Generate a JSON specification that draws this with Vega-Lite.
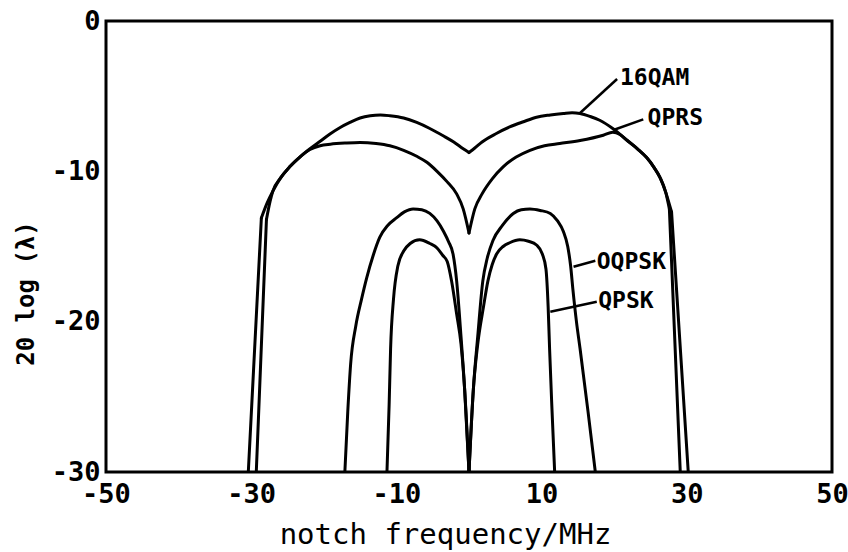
{
  "$schema": "https://vega.github.io/schema/vega-lite/v6.json",
  "autosize": {"type": "none"},
  "padding": {"left": 106, "top": 21, "right": 16, "bottom": 80},
  "width": 726,
  "height": 451,
  "background": "white",
  "config": {
    "view": {"stroke": "black", "strokeWidth": 3},
    "axis": {
      "domain": false,
      "grid": false,
      "ticks": false,
      "labelFont": "DejaVu Sans Mono",
      "labelFontWeight": "bold",
      "labelFontSize": 27,
      "labelColor": "black",
      "titleFont": "DejaVu Sans Mono",
      "titleColor": "black",
      "labelFlush": false,
      "labelOverlap": false
    }
  },
  "datasets": {
    "curves": [
      {"seg": "16QAM-L0", "k": "lin", "i": 0, "f": -30.4, "db": -30},
      {"seg": "16QAM-L0", "k": "lin", "i": 1, "f": -28.6, "db": -13.1},

      {"seg": "16QAM-L", "k": "mono", "i": 0, "f": -28.6, "db": -13.1},
      {"seg": "16QAM-L", "k": "mono", "i": 1, "f": -27.8, "db": -12.1},
      {"seg": "16QAM-L", "k": "mono", "i": 2, "f": -27.0, "db": -11.3},
      {"seg": "16QAM-L", "k": "mono", "i": 3, "f": -25.9, "db": -10.4},
      {"seg": "16QAM-L", "k": "mono", "i": 4, "f": -24.7, "db": -9.7},
      {"seg": "16QAM-L", "k": "mono", "i": 5, "f": -23.3, "db": -9.05},
      {"seg": "16QAM-L", "k": "mono", "i": 6, "f": -21.9, "db": -8.5},
      {"seg": "16QAM-L", "k": "mono", "i": 7, "f": -20.5, "db": -8.0},
      {"seg": "16QAM-L", "k": "mono", "i": 8, "f": -19.1, "db": -7.5},
      {"seg": "16QAM-L", "k": "mono", "i": 9, "f": -17.8, "db": -7.1},
      {"seg": "16QAM-L", "k": "mono", "i": 10, "f": -16.4, "db": -6.75},
      {"seg": "16QAM-L", "k": "mono", "i": 11, "f": -15.0, "db": -6.45},
      {"seg": "16QAM-L", "k": "mono", "i": 12, "f": -13.6, "db": -6.3},
      {"seg": "16QAM-L", "k": "mono", "i": 13, "f": -12.2, "db": -6.25},
      {"seg": "16QAM-L", "k": "mono", "i": 14, "f": -10.9, "db": -6.3},
      {"seg": "16QAM-L", "k": "mono", "i": 15, "f": -9.0, "db": -6.45},
      {"seg": "16QAM-L", "k": "mono", "i": 16, "f": -7.2, "db": -6.75},
      {"seg": "16QAM-L", "k": "mono", "i": 17, "f": -5.4, "db": -7.15},
      {"seg": "16QAM-L", "k": "mono", "i": 18, "f": -3.5, "db": -7.65},
      {"seg": "16QAM-L", "k": "mono", "i": 19, "f": -2.1, "db": -8.05},
      {"seg": "16QAM-L", "k": "mono", "i": 20, "f": -0.8, "db": -8.5},
      {"seg": "16QAM-L", "k": "mono", "i": 21, "f": 0.0, "db": -8.75},

      {"seg": "16QAM-R", "k": "mono", "i": 0, "f": 0.0, "db": -8.75},
      {"seg": "16QAM-R", "k": "mono", "i": 1, "f": 0.8, "db": -8.45},
      {"seg": "16QAM-R", "k": "mono", "i": 2, "f": 1.8, "db": -8.05},
      {"seg": "16QAM-R", "k": "mono", "i": 3, "f": 3.7, "db": -7.5},
      {"seg": "16QAM-R", "k": "mono", "i": 4, "f": 5.6, "db": -7.05},
      {"seg": "16QAM-R", "k": "mono", "i": 5, "f": 7.5, "db": -6.7},
      {"seg": "16QAM-R", "k": "mono", "i": 6, "f": 9.3, "db": -6.4},
      {"seg": "16QAM-R", "k": "mono", "i": 7, "f": 11.2, "db": -6.25},
      {"seg": "16QAM-R", "k": "mono", "i": 8, "f": 13.0, "db": -6.15},
      {"seg": "16QAM-R", "k": "mono", "i": 9, "f": 14.2, "db": -6.1},
      {"seg": "16QAM-R", "k": "mono", "i": 10, "f": 15.3, "db": -6.15},
      {"seg": "16QAM-R", "k": "mono", "i": 11, "f": 16.7, "db": -6.35},
      {"seg": "16QAM-R", "k": "mono", "i": 12, "f": 18.0, "db": -6.6},
      {"seg": "16QAM-R", "k": "mono", "i": 13, "f": 19.8, "db": -7.15},
      {"seg": "16QAM-R", "k": "mono", "i": 14, "f": 21.8, "db": -7.95},
      {"seg": "16QAM-R", "k": "mono", "i": 15, "f": 23.2, "db": -8.5},
      {"seg": "16QAM-R", "k": "mono", "i": 16, "f": 24.5, "db": -9.1},
      {"seg": "16QAM-R", "k": "mono", "i": 17, "f": 25.5, "db": -9.75},
      {"seg": "16QAM-R", "k": "mono", "i": 18, "f": 26.3, "db": -10.4},
      {"seg": "16QAM-R", "k": "mono", "i": 19, "f": 27.1, "db": -11.4},
      {"seg": "16QAM-R", "k": "mono", "i": 20, "f": 27.9, "db": -12.7},

      {"seg": "16QAM-R0", "k": "lin", "i": 0, "f": 27.9, "db": -12.7},
      {"seg": "16QAM-R0", "k": "lin", "i": 1, "f": 30.2, "db": -30},

      {"seg": "QPRS-L0", "k": "lin", "i": 0, "f": -29.3, "db": -30},
      {"seg": "QPRS-L0", "k": "lin", "i": 1, "f": -27.9, "db": -13.2},

      {"seg": "QPRS-L", "k": "mono", "i": 0, "f": -27.9, "db": -13.2},
      {"seg": "QPRS-L", "k": "mono", "i": 1, "f": -27.4, "db": -12.0},
      {"seg": "QPRS-L", "k": "mono", "i": 2, "f": -27.0, "db": -11.3},
      {"seg": "QPRS-L", "k": "mono", "i": 3, "f": -25.9, "db": -10.4},
      {"seg": "QPRS-L", "k": "mono", "i": 4, "f": -24.7, "db": -9.7},
      {"seg": "QPRS-L", "k": "mono", "i": 5, "f": -23.3, "db": -9.05},
      {"seg": "QPRS-L", "k": "mono", "i": 6, "f": -21.9, "db": -8.55},
      {"seg": "QPRS-L", "k": "mono", "i": 7, "f": -20.5, "db": -8.3},
      {"seg": "QPRS-L", "k": "mono", "i": 8, "f": -19.1, "db": -8.2},
      {"seg": "QPRS-L", "k": "mono", "i": 9, "f": -17.0, "db": -8.12},
      {"seg": "QPRS-L", "k": "mono", "i": 10, "f": -15.0, "db": -8.08},
      {"seg": "QPRS-L", "k": "mono", "i": 11, "f": -12.8, "db": -8.15},
      {"seg": "QPRS-L", "k": "mono", "i": 12, "f": -10.9, "db": -8.3},
      {"seg": "QPRS-L", "k": "mono", "i": 13, "f": -9.0, "db": -8.6},
      {"seg": "QPRS-L", "k": "mono", "i": 14, "f": -7.2, "db": -9.0},
      {"seg": "QPRS-L", "k": "mono", "i": 15, "f": -5.8, "db": -9.4},
      {"seg": "QPRS-L", "k": "mono", "i": 16, "f": -4.4, "db": -10.0},
      {"seg": "QPRS-L", "k": "mono", "i": 17, "f": -3.0, "db": -10.7},
      {"seg": "QPRS-L", "k": "mono", "i": 18, "f": -1.7, "db": -11.5},
      {"seg": "QPRS-L", "k": "mono", "i": 19, "f": -0.8, "db": -12.5},
      {"seg": "QPRS-L", "k": "mono", "i": 20, "f": 0.0, "db": -14.1},

      {"seg": "QPRS-R", "k": "mono", "i": 0, "f": 0.0, "db": -14.1},
      {"seg": "QPRS-R", "k": "mono", "i": 1, "f": 0.8, "db": -12.5},
      {"seg": "QPRS-R", "k": "mono", "i": 2, "f": 1.8, "db": -11.5},
      {"seg": "QPRS-R", "k": "mono", "i": 3, "f": 3.2, "db": -10.5},
      {"seg": "QPRS-R", "k": "mono", "i": 4, "f": 4.7, "db": -9.7},
      {"seg": "QPRS-R", "k": "mono", "i": 5, "f": 6.5, "db": -9.05},
      {"seg": "QPRS-R", "k": "mono", "i": 6, "f": 8.4, "db": -8.6},
      {"seg": "QPRS-R", "k": "mono", "i": 7, "f": 10.4, "db": -8.3},
      {"seg": "QPRS-R", "k": "mono", "i": 8, "f": 12.5, "db": -8.15},
      {"seg": "QPRS-R", "k": "mono", "i": 9, "f": 15.3, "db": -7.95},
      {"seg": "QPRS-R", "k": "mono", "i": 10, "f": 18.5, "db": -7.6},
      {"seg": "QPRS-R", "k": "mono", "i": 11, "f": 19.8, "db": -7.4},
      {"seg": "QPRS-R", "k": "mono", "i": 12, "f": 20.8, "db": -7.55},
      {"seg": "QPRS-R", "k": "mono", "i": 13, "f": 21.8, "db": -7.95},
      {"seg": "QPRS-R", "k": "mono", "i": 14, "f": 23.2, "db": -8.5},
      {"seg": "QPRS-R", "k": "mono", "i": 15, "f": 24.5, "db": -9.1},
      {"seg": "QPRS-R", "k": "mono", "i": 16, "f": 25.5, "db": -9.75},
      {"seg": "QPRS-R", "k": "mono", "i": 17, "f": 26.3, "db": -10.4},
      {"seg": "QPRS-R", "k": "mono", "i": 18, "f": 27.1, "db": -11.4},
      {"seg": "QPRS-R", "k": "mono", "i": 19, "f": 27.6, "db": -12.5},

      {"seg": "QPRS-R0", "k": "lin", "i": 0, "f": 27.6, "db": -12.5},
      {"seg": "QPRS-R0", "k": "lin", "i": 1, "f": 29.1, "db": -30},

      {"seg": "OQPSK-L", "k": "mono", "i": 0, "f": -17.1, "db": -30},
      {"seg": "OQPSK-L", "k": "mono", "i": 1, "f": -16.7, "db": -26},
      {"seg": "OQPSK-L", "k": "mono", "i": 2, "f": -16.3, "db": -22.8},
      {"seg": "OQPSK-L", "k": "mono", "i": 3, "f": -15.6, "db": -20.3},
      {"seg": "OQPSK-L", "k": "mono", "i": 4, "f": -14.8, "db": -18.5},
      {"seg": "OQPSK-L", "k": "mono", "i": 5, "f": -14.1, "db": -17.1},
      {"seg": "OQPSK-L", "k": "mono", "i": 6, "f": -13.2, "db": -15.6},
      {"seg": "OQPSK-L", "k": "mono", "i": 7, "f": -12.3, "db": -14.4},
      {"seg": "OQPSK-L", "k": "mono", "i": 8, "f": -11.2, "db": -13.6},
      {"seg": "OQPSK-L", "k": "mono", "i": 9, "f": -10.0, "db": -13.1},
      {"seg": "OQPSK-L", "k": "mono", "i": 10, "f": -8.9, "db": -12.7},
      {"seg": "OQPSK-L", "k": "mono", "i": 11, "f": -7.7, "db": -12.5},
      {"seg": "OQPSK-L", "k": "mono", "i": 12, "f": -6.5, "db": -12.55},
      {"seg": "OQPSK-L", "k": "mono", "i": 13, "f": -5.4, "db": -12.8},
      {"seg": "OQPSK-L", "k": "mono", "i": 14, "f": -4.4, "db": -13.3},
      {"seg": "OQPSK-L", "k": "mono", "i": 15, "f": -3.5, "db": -14.0},
      {"seg": "OQPSK-L", "k": "mono", "i": 16, "f": -2.8, "db": -14.7},
      {"seg": "OQPSK-L", "k": "mono", "i": 17, "f": -2.2, "db": -15.5},
      {"seg": "OQPSK-L", "k": "mono", "i": 18, "f": -1.7, "db": -17.3},
      {"seg": "OQPSK-L", "k": "mono", "i": 19, "f": -1.1, "db": -21},
      {"seg": "OQPSK-L", "k": "mono", "i": 20, "f": -0.6, "db": -24.5},
      {"seg": "OQPSK-L", "k": "mono", "i": 21, "f": 0.0, "db": -30},

      {"seg": "OQPSK-R", "k": "mono", "i": 0, "f": 0.0, "db": -30},
      {"seg": "OQPSK-R", "k": "mono", "i": 1, "f": 0.6, "db": -24.5},
      {"seg": "OQPSK-R", "k": "mono", "i": 2, "f": 1.2, "db": -21},
      {"seg": "OQPSK-R", "k": "mono", "i": 3, "f": 1.9, "db": -17.3},
      {"seg": "OQPSK-R", "k": "mono", "i": 4, "f": 2.5, "db": -15.8},
      {"seg": "OQPSK-R", "k": "mono", "i": 5, "f": 3.3, "db": -14.6},
      {"seg": "OQPSK-R", "k": "mono", "i": 6, "f": 4.6, "db": -13.6},
      {"seg": "OQPSK-R", "k": "mono", "i": 7, "f": 6.1, "db": -12.8},
      {"seg": "OQPSK-R", "k": "mono", "i": 8, "f": 7.2, "db": -12.55},
      {"seg": "OQPSK-R", "k": "mono", "i": 9, "f": 8.4, "db": -12.5},
      {"seg": "OQPSK-R", "k": "mono", "i": 10, "f": 9.8, "db": -12.6},
      {"seg": "OQPSK-R", "k": "mono", "i": 11, "f": 11.2, "db": -12.8},
      {"seg": "OQPSK-R", "k": "mono", "i": 12, "f": 12.2, "db": -13.3},
      {"seg": "OQPSK-R", "k": "mono", "i": 13, "f": 13.0, "db": -14.0},
      {"seg": "OQPSK-R", "k": "mono", "i": 14, "f": 13.6, "db": -15.0},
      {"seg": "OQPSK-R", "k": "mono", "i": 15, "f": 14.0, "db": -16.3},
      {"seg": "OQPSK-R", "k": "mono", "i": 16, "f": 14.3, "db": -17.8},
      {"seg": "OQPSK-R", "k": "mono", "i": 17, "f": 14.8, "db": -20.0},
      {"seg": "OQPSK-R", "k": "mono", "i": 18, "f": 15.3, "db": -21.8},
      {"seg": "OQPSK-R", "k": "mono", "i": 19, "f": 16.4, "db": -26},
      {"seg": "OQPSK-R", "k": "mono", "i": 20, "f": 17.4, "db": -30},

      {"seg": "QPSK-L", "k": "mono", "i": 0, "f": -11.3, "db": -30},
      {"seg": "QPSK-L", "k": "mono", "i": 1, "f": -11.0, "db": -25.5},
      {"seg": "QPSK-L", "k": "mono", "i": 2, "f": -10.8, "db": -21.8},
      {"seg": "QPSK-L", "k": "mono", "i": 3, "f": -10.4, "db": -18.5},
      {"seg": "QPSK-L", "k": "mono", "i": 4, "f": -9.8, "db": -16.3},
      {"seg": "QPSK-L", "k": "mono", "i": 5, "f": -9.0, "db": -15.3},
      {"seg": "QPSK-L", "k": "mono", "i": 6, "f": -8.1, "db": -14.8},
      {"seg": "QPSK-L", "k": "mono", "i": 7, "f": -6.8, "db": -14.55},
      {"seg": "QPSK-L", "k": "mono", "i": 8, "f": -5.4, "db": -14.8},
      {"seg": "QPSK-L", "k": "mono", "i": 9, "f": -4.4, "db": -15.1},
      {"seg": "QPSK-L", "k": "mono", "i": 10, "f": -3.6, "db": -15.6},
      {"seg": "QPSK-L", "k": "mono", "i": 11, "f": -3.0, "db": -16.0},
      {"seg": "QPSK-L", "k": "mono", "i": 12, "f": -2.4, "db": -17.3},
      {"seg": "QPSK-L", "k": "mono", "i": 13, "f": -1.7, "db": -19.5},
      {"seg": "QPSK-L", "k": "mono", "i": 14, "f": -1.1, "db": -21.5},
      {"seg": "QPSK-L", "k": "mono", "i": 15, "f": -0.6, "db": -24.5},
      {"seg": "QPSK-L", "k": "mono", "i": 16, "f": 0.0, "db": -30},

      {"seg": "QPSK-R", "k": "mono", "i": 0, "f": 0.0, "db": -30},
      {"seg": "QPSK-R", "k": "mono", "i": 1, "f": 0.6, "db": -24.5},
      {"seg": "QPSK-R", "k": "mono", "i": 2, "f": 1.2, "db": -21.5},
      {"seg": "QPSK-R", "k": "mono", "i": 3, "f": 2.0, "db": -19},
      {"seg": "QPSK-R", "k": "mono", "i": 4, "f": 2.6, "db": -17.3},
      {"seg": "QPSK-R", "k": "mono", "i": 5, "f": 3.2, "db": -16.2},
      {"seg": "QPSK-R", "k": "mono", "i": 6, "f": 3.8, "db": -15.5},
      {"seg": "QPSK-R", "k": "mono", "i": 7, "f": 4.7, "db": -15.0},
      {"seg": "QPSK-R", "k": "mono", "i": 8, "f": 5.6, "db": -14.75},
      {"seg": "QPSK-R", "k": "mono", "i": 9, "f": 7.0, "db": -14.55},
      {"seg": "QPSK-R", "k": "mono", "i": 10, "f": 8.2, "db": -14.65},
      {"seg": "QPSK-R", "k": "mono", "i": 11, "f": 9.3, "db": -14.9},
      {"seg": "QPSK-R", "k": "mono", "i": 12, "f": 10.1, "db": -15.5},
      {"seg": "QPSK-R", "k": "mono", "i": 13, "f": 10.6, "db": -16.5},
      {"seg": "QPSK-R", "k": "mono", "i": 14, "f": 10.9, "db": -19},
      {"seg": "QPSK-R", "k": "mono", "i": 15, "f": 11.1, "db": -21.8},
      {"seg": "QPSK-R", "k": "mono", "i": 16, "f": 11.4, "db": -25.5},
      {"seg": "QPSK-R", "k": "mono", "i": 17, "f": 11.8, "db": -30}
    ],
    "leaders": [
      {"s": "16QAM", "f": 15.3, "db": -6.12, "f2": 20.4, "db2": -3.86},
      {"s": "QPRS", "f": 19.9, "db": -7.25, "f2": 24.0, "db2": -6.54},
      {"s": "OQPSK", "f": 14.4, "db": -16.35, "f2": 17.4, "db2": -15.95},
      {"s": "QPSK", "f": 11.2, "db": -19.34, "f2": 17.6, "db2": -18.68}
    ],
    "labels": [
      {"s": "16QAM", "f": 20.8, "db": -3.76},
      {"s": "QPRS", "f": 24.6, "db": -6.45},
      {"s": "OQPSK", "f": 17.6, "db": -16.0},
      {"s": "QPSK", "f": 17.8, "db": -18.6}
    ]
  },
  "encoding": {
    "x": {
      "field": "f",
      "type": "quantitative",
      "scale": {"domain": [-50, 50], "nice": false, "zero": false},
      "axis": {
        "values": [-50, -30, -10, 10, 30, 50],
        "labelExpr": "'' + datum.value",
        "labelPadding": 9,
        "title": "notch frequency/MHz",
        "titleFontSize": 29,
        "titleFontWeight": "normal",
        "titleX": 339,
        "titleY": 71,
        "titleAlign": "center",
        "titleBaseline": "alphabetic",
        "encode": {
          "labels": {
            "update": {
              "dx": {"signal": "datum.value < 0 ? 8 : (datum.value == 50 ? -13 : (datum.value == 30 ? -5 : 0))"}
            }
          }
        }
      }
    },
    "y": {
      "field": "db",
      "type": "quantitative",
      "scale": {"domain": [-30, 0], "nice": false, "zero": false},
      "axis": {
        "values": [-30, -20, -10, 0],
        "labelExpr": "'' + datum.value",
        "labelPadding": 6,
        "title": "20 log (λ)",
        "titleFontSize": 24,
        "titleFontWeight": "bold",
        "titleAngle": -90,
        "titleX": -73,
        "titleY": 272,
        "titleAlign": "center",
        "titleBaseline": "alphabetic",
        "encode": {
          "labels": {
            "update": {
              "dy": {"signal": "datum.value == -30 ? -2 : 0"}
            }
          }
        }
      }
    }
  },
  "layer": [
    {
      "data": {"name": "curves"},
      "transform": [{"filter": "datum.k == 'mono'"}],
      "mark": {"type": "line", "interpolate": "monotone", "color": "black", "strokeWidth": 3, "strokeJoin": "round", "strokeCap": "round", "clip": true},
      "encoding": {
        "detail": {"field": "seg"},
        "order": {"field": "i", "type": "quantitative"}
      }
    },
    {
      "data": {"name": "curves"},
      "transform": [{"filter": "datum.k == 'lin'"}],
      "mark": {"type": "line", "interpolate": "linear", "color": "black", "strokeWidth": 3, "strokeJoin": "round", "strokeCap": "round", "clip": true},
      "encoding": {
        "detail": {"field": "seg"},
        "order": {"field": "i", "type": "quantitative"}
      }
    },
    {
      "data": {"name": "leaders"},
      "mark": {"type": "rule", "color": "black", "strokeWidth": 2.5},
      "encoding": {
        "x2": {"field": "f2"},
        "y2": {"field": "db2"}
      }
    },
    {
      "data": {"name": "labels"},
      "mark": {"type": "text", "font": "DejaVu Sans Mono", "fontWeight": "bold", "fontSize": 23, "align": "left", "baseline": "middle", "color": "black"},
      "encoding": {
        "text": {"field": "s"}
      }
    }
  ]
}
